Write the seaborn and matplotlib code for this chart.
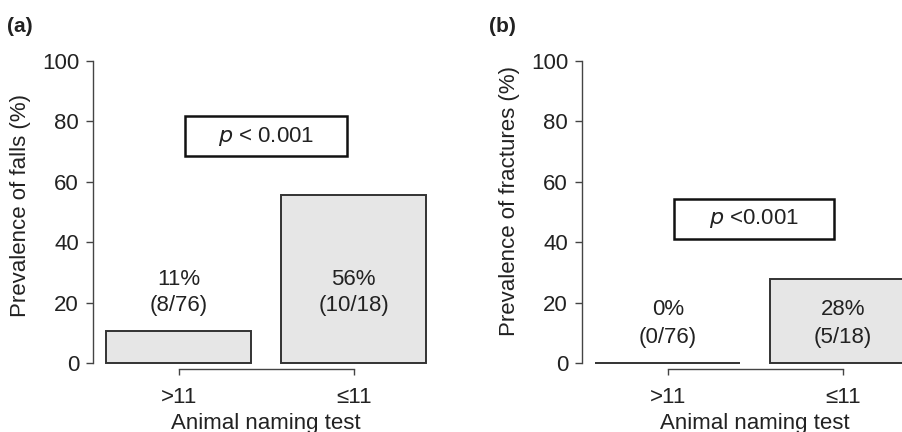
import matplotlib
matplotlib.use("Agg")
import matplotlib.pyplot as plt
import seaborn as sns
import pandas as pd
from matplotlib.patches import Rectangle

# data
groups = [">11", "≤11"]
falls_n = [8, 10]
fract_n = [0, 5]
group_total = [76, 18]
falls_pct = [100 * n / t for n, t in zip(falls_n, group_total)]
fract_pct = [100 * n / t for n, t in zip(fract_n, group_total)]

sns.set_style("white")
plt.rcParams['font.family'] = ['Liberation Sans', 'DejaVu Sans']
plt.rcParams['text.color'] = '#222222'
plt.rcParams['axes.labelcolor'] = '#222222'

FS = 16
fig = plt.figure(figsize=(9.03, 4.32), dpi=100)


def panel(left, pct, counts, ylabel, ptext, box, lab_y, tag, tag_x, ylab_mid):
    ax = fig.add_axes([left, 69 / 432, 346.5 / 903, 302 / 432])
    df = pd.DataFrame({"group": groups, "pct": pct})
    sns.barplot(data=df, x="group", y="pct", order=groups, width=0.83,
                color="#e6e6e6", edgecolor="#333333", linewidth=1.4,
                saturation=1, ax=ax)
    for p in ax.patches:
        p.set_clip_on(False)
    ax.set_xlim(-0.49, 1.49)
    ax.set_ylim(0, 100)
    ax.set_yticks([0, 20, 40, 60, 80, 100])
    sns.despine(ax=ax, top=True, right=True)
    ax.spines['left'].set_bounds(0, 100)
    ax.spines['bottom'].set_bounds(0, 1)
    ax.spines['bottom'].set_position(('outward', 4))
    for s in ['left', 'bottom']:
        ax.spines[s].set_color('#444444')
        ax.spines[s].set_linewidth(1.0)
    ax.tick_params(axis='y', left=True, length=5, width=1, color='#444444',
                   pad=5, labelsize=FS, labelcolor='#222222')
    ax.tick_params(axis='x', bottom=True, length=4, width=1, color='#444444',
                   pad=9, labelsize=FS, labelcolor='#222222')
    ax.set_ylabel(ylabel, fontsize=FS)
    ax.yaxis.set_label_coords(-0.18, ylab_mid)
    ax.set_xlabel("Animal naming test", fontsize=FS)
    ax.xaxis.set_label_coords(0.5, -0.165)

    for i, (v, n, t) in enumerate(zip(pct, counts, group_total)):
        ax.text(i, lab_y[0], f"{v:.0f}%", ha='center', va='center', fontsize=FS)
        ax.text(i, lab_y[1], f"({n}/{t})", ha='center', va='center', fontsize=FS)

    x0, x1, y0, y1 = box
    ax.add_patch(Rectangle((x0, y0), x1 - x0, y1 - y0, fill=False,
                           edgecolor='#111111', linewidth=1.8, clip_on=False))
    ax.text((x0 + x1) / 2, (y0 + y1) / 2, ptext, ha='center', va='center',
            fontsize=FS)

    fig.text(tag_x, 1 - 26 / 432, tag, fontsize=15, fontweight='bold',
             ha='left', va='center')
    return ax


panel(93 / 903, falls_pct, falls_n, "Prevalence of falls (%)",
      r"$\it{p}$ < 0.001", (0.037, 0.963, 68.5, 81.8), (27.8, 19.2), "(a)",
      7 / 903, 0.52)
panel(582 / 903, fract_pct, fract_n, "Prevalence of fractures (%)",
      r"$\it{p}$ <0.001", (0.037, 0.951, 41.2, 54.2), (17.6, 8.6), "(b)",
      489 / 903, 0.535)

fig.savefig("out.png", dpi=100)
